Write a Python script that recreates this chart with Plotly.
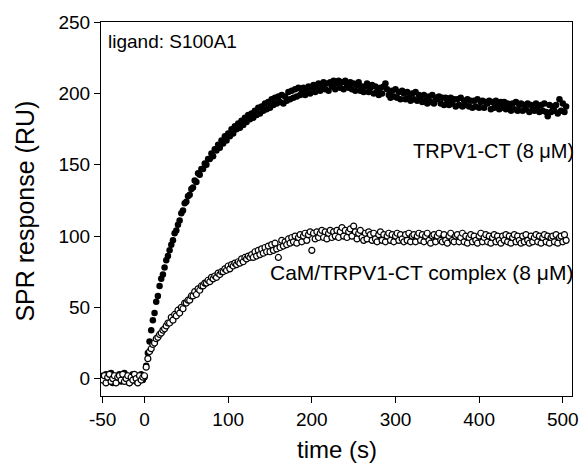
import plotly.graph_objects as go

# sampling times (s), one reading every 2 s
time_s = list(range(-50, 506, 2))

# TRPV1-CT (8 uM) response (RU)
trpv1_ct = [
    2, -1, 3, -2, 1, 4, -3, 0, 2, -1,
    3, -2, 1, 4, -1, 2, -3, 0, 3, 1,
    -2, 2, 0, 3, -1, 1, 9, 18, 26, 34,
    41, 46, 54, 58, 65, 70, 73, 78, 83, 86,
    90, 94, 97, 102, 104, 108, 111, 116, 118, 123,
    124, 128, 129, 133, 134, 139, 138, 144, 143, 147,
    147, 151, 150, 154, 154, 158, 156, 161, 160, 164,
    162, 167, 165, 170, 167, 172, 170, 175, 172, 177,
    175, 179, 176, 181, 178, 183, 180, 185, 182, 186,
    183, 188, 185, 190, 186, 191, 188, 193, 189, 194,
    190, 196, 192, 197, 193, 198, 194, 199, 193, 198,
    195, 201, 196, 202, 197, 203, 198, 204, 199, 202,
    204, 199, 203, 205, 200, 204, 206, 201, 205, 207,
    202, 206, 208, 203, 207, 202, 208, 205, 209, 203,
    207, 209, 204, 208, 203, 209, 206, 204, 208, 203,
    207, 202, 206, 208, 202, 205, 201, 205, 207, 201,
    204, 206, 200, 205, 201, 199, 204, 200, 205, 207,
    203, 199, 197, 202, 198, 203, 197, 201, 196, 202,
    200, 196, 201, 197, 195, 200, 196, 201, 195, 199,
    198, 194, 199, 195, 193, 198, 194, 199, 193, 197,
    196, 198, 193, 197, 192, 197, 195, 192, 197, 193,
    196, 191, 196, 192, 197, 191, 195, 192, 196, 191,
    195, 190, 195, 191, 196, 190, 194, 195, 190, 194,
    193, 195, 189, 194, 190, 195, 192, 189, 194, 190,
    194, 189, 193, 190, 188, 193, 189, 194, 188, 192,
    193, 188, 192, 189, 193, 187, 192, 189, 188, 193,
    191, 187, 192, 188, 193, 187, 184, 192, 187, 191,
    188, 192, 186, 196, 188, 193, 187, 191,
]

# CaM/TRPV1-CT complex (8 uM) response (RU)
cam_complex = [
    -1, 2, -3, 1, 3, -2, 0, 2, -3, 1,
    2, -1, 3, -2, 0, 2, -3, 1, -1, 3,
    0, -3, 2, -1, 1, 2, 8, 14, 19, 21,
    24, 25, 28, 29, 31, 32, 34, 35, 37, 39,
    39, 43, 41, 45, 44, 48, 46, 50, 49, 53,
    53, 55, 55, 58, 58, 61, 59, 63, 62, 65,
    65, 67, 67, 69, 68, 71, 70, 72, 71, 74,
    73, 75, 75, 77, 76, 79, 77, 80, 79, 81,
    80, 82, 81, 84, 82, 85, 84, 86, 85, 87,
    85, 89, 86, 90, 87, 91, 88, 92, 89, 93,
    89, 94, 90, 95, 91, 85, 92, 97, 93, 96,
    94, 98, 95, 99, 96, 100, 95, 99, 101, 96,
    100, 102, 97, 101, 103, 90, 102, 98, 103, 99,
    102, 104, 99, 103, 98, 102, 104, 99, 103, 100,
    104, 99, 103, 106, 100, 104, 99, 103, 105, 100,
    107, 103, 98, 102, 104, 99, 97, 102, 98, 103,
    101, 97, 102, 98, 96, 101, 103, 97, 101, 96,
    100, 102, 97, 101, 96, 100, 102, 97, 101, 98,
    96, 101, 97, 102, 96, 100, 101, 96, 100, 102,
    97, 101, 96, 100, 102, 97, 95, 100, 101, 96,
    100, 102, 97, 96, 101, 97, 95, 100, 102, 97,
    96, 100, 101, 96, 99, 102, 96, 100, 95, 99,
    101, 96, 100, 97, 95, 100, 102, 96, 99, 101,
    96, 100, 95, 99, 101, 96, 100, 97, 95, 100,
    97, 101, 96, 100, 95, 99, 101, 96, 100, 97,
    95, 100, 96, 101, 97, 95, 100, 96, 99, 101,
    96, 100, 95, 99, 101, 96, 100, 95, 99, 100,
    96, 101, 95, 99, 100, 96, 101, 97,
]

x_ticks = [-50, 0, 100, 200, 300, 400, 500]
y_ticks = [0, 50, 100, 150, 200, 250]

FONT = "Liberation Sans, Arial, sans-serif"

fig = go.Figure()
fig.add_trace(go.Scatter(
    x=time_s, y=trpv1_ct, mode="markers", name="TRPV1-CT (8 μM)",
    marker=dict(symbol="circle", size=6.5, color="black", line=dict(width=0)),
))
fig.add_trace(go.Scatter(
    x=time_s, y=cam_complex, mode="markers", name="CaM/TRPV1-CT complex (8 μM)",
    marker=dict(symbol="circle", size=6, color="white", line=dict(width=1.2, color="black")),
))

axis_common = dict(
    showgrid=False, zeroline=False, showline=True, linecolor="black", linewidth=1,
    mirror=True, ticks="outside", ticklen=6, tickwidth=1, tickcolor="black",
    tickfont=dict(family=FONT, size=19, color="black"),
)
fig.update_xaxes(range=[-52, 511], tickvals=x_ticks, ticktext=[str(v) for v in x_ticks], **axis_common)
fig.update_yaxes(range=[-12.2, 250.2], tickvals=y_ticks, ticktext=[str(v) for v in y_ticks], **axis_common)

fig.update_layout(
    width=588, height=464,
    margin=dict(l=101, r=9, t=22, b=68),
    paper_bgcolor="white", plot_bgcolor="white",
    showlegend=False,
    font=dict(family=FONT, color="black"),
    annotations=[
        dict(text="SPR response (RU)", xref="paper", yref="paper", x=-0.162, y=0.495,
             xanchor="center", yanchor="middle", textangle=-90, showarrow=False,
             font=dict(size=25, family=FONT, color="black")),
        dict(text="time (s)", xref="paper", yref="paper", x=0.5, y=-0.143,
             xanchor="center", yanchor="middle", showarrow=False,
             font=dict(size=24, family=FONT, color="black")),
        dict(text="ligand: S100A1", xref="paper", yref="paper", x=0.011, y=0.98,
             xanchor="left", yanchor="top", showarrow=False,
             font=dict(size=19, family=FONT, color="black")),
        dict(text="TRPV1-CT (8 μM)", xref="paper", yref="paper", x=1.008, y=0.655,
             xanchor="right", yanchor="middle", showarrow=False,
             font=dict(size=20, family=FONT, color="black")),
        dict(text="CaM/TRPV1-CT complex (8 μM)", xref="paper", yref="paper", x=1.006, y=0.33,
             xanchor="right", yanchor="middle", showarrow=False,
             font=dict(size=21, family=FONT, color="black")),
    ],
)

fig.write_html("out.html")
